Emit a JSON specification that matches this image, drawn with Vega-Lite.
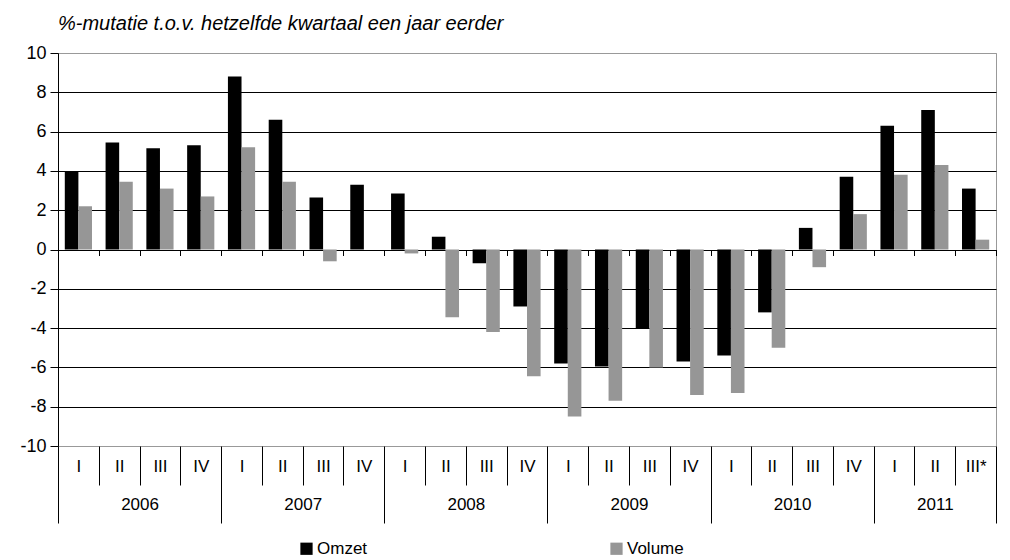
{
  "$schema": "https://vega.github.io/schema/vega-lite/v6.json",
  "autosize": "none",
  "width": 938,
  "height": 393,
  "padding": {"left": 58, "top": 53, "right": 14, "bottom": 114},
  "background": "#ffffff",
  "title": {
    "text": "%-mutatie t.o.v. hetzelfde kwartaal een jaar eerder",
    "anchor": "start",
    "frame": "group",
    "font": "Liberation Sans",
    "fontSize": 20,
    "fontStyle": "italic",
    "fontWeight": "normal",
    "color": "#000000",
    "offset": 10
  },
  "data": {
    "values": [
      {"k": "2006 I", "Omzet": 4.0, "Volume": 2.2},
      {"k": "2006 II", "Omzet": 5.45, "Volume": 3.45},
      {"k": "2006 III", "Omzet": 5.15, "Volume": 3.1},
      {"k": "2006 IV", "Omzet": 5.3, "Volume": 2.7},
      {"k": "2007 I", "Omzet": 8.8, "Volume": 5.2},
      {"k": "2007 II", "Omzet": 6.6, "Volume": 3.45},
      {"k": "2007 III", "Omzet": 2.65, "Volume": -0.6},
      {"k": "2007 IV", "Omzet": 3.3, "Volume": 0},
      {"k": "2008 I", "Omzet": 2.85, "Volume": -0.2},
      {"k": "2008 II", "Omzet": 0.65, "Volume": -3.45},
      {"k": "2008 III", "Omzet": -0.7, "Volume": -4.2},
      {"k": "2008 IV", "Omzet": -2.9, "Volume": -6.45},
      {"k": "2009 I", "Omzet": -5.8, "Volume": -8.5},
      {"k": "2009 II", "Omzet": -5.95, "Volume": -7.7},
      {"k": "2009 III", "Omzet": -4.05, "Volume": -6.0},
      {"k": "2009 IV", "Omzet": -5.7, "Volume": -7.4},
      {"k": "2010 I", "Omzet": -5.4, "Volume": -7.3},
      {"k": "2010 II", "Omzet": -3.2, "Volume": -5.0},
      {"k": "2010 III", "Omzet": 1.1, "Volume": -0.9},
      {"k": "2010 IV", "Omzet": 3.7, "Volume": 1.8},
      {"k": "2011 I", "Omzet": 6.3, "Volume": 3.8},
      {"k": "2011 II", "Omzet": 7.1, "Volume": 4.3},
      {"k": "2011 III*", "Omzet": 3.1, "Volume": 0.5}
    ]
  },
  "config": {
    "view": {"stroke": "#999999", "strokeWidth": 1},
    "font": "Liberation Sans",
    "axis": {"labelFont": "Liberation Sans", "labelColor": "#000000", "labelFontSize": 17}
  },
  "layer": [
    {
      "mark": {"type": "bar"},
      "encoding": {
        "x": {
          "field": "k", "type": "nominal", "sort": null,
          "scale": {"paddingInner": 0, "paddingOuter": 0},
          "axis": {
            "orient": "bottom",
            "title": null, "domain": false, "grid": false,
            "tickBand": "extent", "tickColor": "#000000", "tickWidth": 1,
            "tickSize": {"condition": {"test": "datum.extra || split(datum.value, ' ')[1] == 'IV' || datum.value == '2011 III*'", "value": 77}, "value": 39},
            "labelExpr": "split(datum.label, ' ')[1]",
            "labelAngle": 0, "labelOverlap": false,
            "labelPadding": {"condition": {"test": "datum.extra || split(datum.value, ' ')[1] == 'IV' || datum.value == '2011 III*'", "value": -65}, "value": -27}
          }
        },
        "xOffset": {"datum": "Omzet", "scale": {"domain": ["Omzet", "Volume"], "paddingInner": 0, "paddingOuter": 0.5}},
        "y": {
          "field": "Omzet", "type": "quantitative",
          "scale": {"domain": [-10, 10], "nice": false},
          "axis": {
            "title": null, "values": [-10, -8, -6, -4, -2, 0, 2, 4, 6, 8, 10],
            "labelExpr": "datum.value < 0 ? '-' + abs(datum.value) : '' + datum.value",
            "labelFontSize": 18,
            "domainColor": "#000000", "tickColor": "#000000", "tickSize": 8, "labelPadding": 4,
            "gridColor": {"condition": {"test": "abs(datum.value) == 10", "value": "#999999"}, "value": "#000000"},
            "gridWidth": 1
          }
        },
        "color": {
          "datum": "Omzet",
          "scale": {"domain": ["Omzet", "Volume"], "range": ["#000000", "#969696"]},
          "legend": {
            "title": null, "orient": "none", "direction": "horizontal",
            "legendX": 240, "legendY": 487, "padding": 0,
            "symbolType": "square", "symbolSize": 150, "symbolStrokeWidth": 0,
            "labelFontSize": 17, "labelFont": "Liberation Sans", "labelColor": "#000000",
            "labelOffset": 2, "columnPadding": 240
          }
        }
      }
    },
    {
      "mark": {"type": "bar"},
      "encoding": {
        "x": {
          "field": "k", "type": "nominal", "sort": null,
          "scale": {"paddingInner": 0, "paddingOuter": 0},
          "axis": {
            "orient": "bottom",
            "title": null, "domain": false, "grid": false, "offset": -196.5,
            "tickBand": "extent", "tickColor": "#000000", "tickWidth": 1, "tickSize": 6,
            "labelExpr": "split(datum.label, ' ')[1] == 'II' ? split(datum.label, ' ')[0] : ''",
            "labelOffset": {"condition": {"test": "datum.value == '2011 II'", "value": 0}, "value": 20.4},
            "labelAngle": 0, "labelOverlap": false, "labelPadding": 241
          }
        },
        "xOffset": {"datum": "Volume", "scale": {"domain": ["Omzet", "Volume"], "paddingInner": 0, "paddingOuter": 0.5}},
        "y": {
          "field": "Volume", "type": "quantitative",
          "scale": {"domain": [-10, 10], "nice": false},
          "axis": {
            "title": null, "values": [-10, -8, -6, -4, -2, 0, 2, 4, 6, 8, 10],
            "labelExpr": "datum.value < 0 ? '-' + abs(datum.value) : '' + datum.value",
            "labelFontSize": 18,
            "domainColor": "#000000", "tickColor": "#000000", "tickSize": 8, "labelPadding": 4,
            "gridColor": {"condition": {"test": "abs(datum.value) == 10", "value": "#999999"}, "value": "#000000"},
            "gridWidth": 1
          }
        },
        "color": {"datum": "Volume"}
      }
    }
  ],
  "resolve": {"axis": {"x": "independent"}}
}
